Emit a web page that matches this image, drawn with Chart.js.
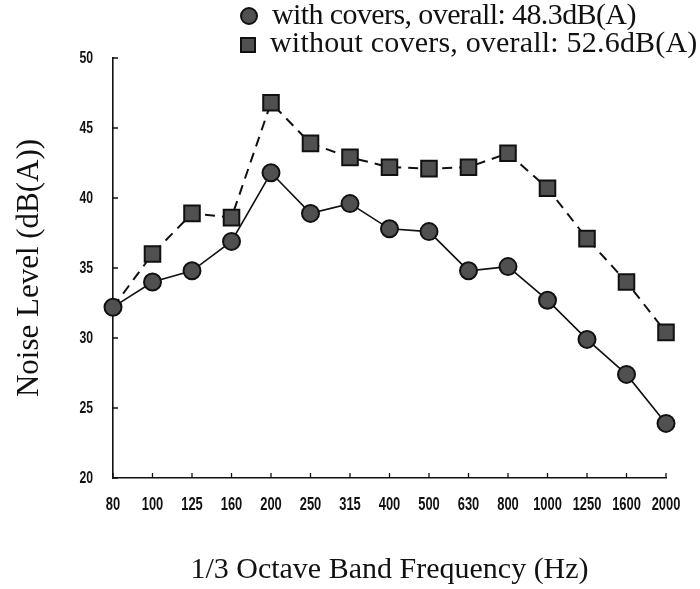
<!DOCTYPE html>
<html>
<head>
<meta charset="utf-8">
<script src="https://cdn.jsdelivr.net/npm/chart.js@4/dist/chart.umd.min.js"></script>
<style>
  html, body { margin: 0; padding: 0; background: #fff; }
  #wrap { position: relative; width: 700px; height: 589px; }
  #legend { position: absolute; left: 240px; top: 0; font-family: "Liberation Serif", "Times New Roman", serif; font-size: 30px; color: #111; line-height: 28px; }
  #legend div { white-space: nowrap; }
  #legend .r1 { letter-spacing: -0.6px; }
  #legend .r2 { letter-spacing: 0.2px; }
  .mk { display: inline-block; width: 16px; height: 16px; background: #505050; border: 2px solid #111; margin-right: 14px; vertical-align: -1px; box-sizing: border-box; }
  .mk.circ { border-radius: 50%; width: 18px; height: 18px; }
</style>
</head>
<body>
<div id="wrap">
  <canvas id="myChart" width="700" height="589"></canvas>
  <div id="legend">
    <div class="r1"><span class="mk circ"></span>with covers, overall: 48.3dB(A)</div>
    <div class="r2"><span class="mk"></span>without covers, overall: 52.6dB(A)</div>
  </div>
</div>
<script>
const frecuencias = ['80', '100', '125', '160', '200', '250', '315', '400', '500', '630', '800', '1000', '1250', '1600', '2000'];
const conTapas = [32.2, 34.0, 34.8, 36.9, 41.8, 38.9, 39.6, 37.8, 37.6, 34.8, 35.1, 32.7, 29.9, 27.4, 23.9];
const sinTapas = [32.2, 36.0, 38.9, 38.6, 46.8, 43.9, 42.9, 42.2, 42.1, 42.2, 43.2, 40.7, 37.1, 34.0, 30.4];
const yMin = 20, yMax = 50, yPaso = 5;

const fuenteTicks = '"Liberation Sans", Arial, sans-serif';
const fuenteSerif = '"Liberation Serif", "Times New Roman", serif';

// small tick marks pointing into the plot, like the original figure
const ticksHaciaDentro = {
    id: 'ticksHaciaDentro',
    beforeDatasetsDraw(chart) {
        const {ctx, chartArea, scales: {x, y}} = chart;
        ctx.save();
        ctx.strokeStyle = '#111';
        ctx.lineWidth = 1.3;
        ctx.beginPath();
        x.ticks.forEach((t, i) => {
            const px = x.getPixelForTick(i);
            ctx.moveTo(px, chartArea.bottom);
            ctx.lineTo(px, chartArea.bottom - 5);
        });
        y.ticks.forEach((t, i) => {
            const py = y.getPixelForTick(i);
            ctx.moveTo(chartArea.left, py);
            ctx.lineTo(chartArea.left + 5, py);
        });
        ctx.stroke();
        ctx.restore();
    }
};

// tick labels in a narrow bold face (squeezed horizontally), placed from the scales
const etiquetasEstrechas = {
    id: 'etiquetasEstrechas',
    afterDraw(chart) {
        const {ctx, chartArea, scales: {x, y}} = chart;
        ctx.save();
        ctx.fillStyle = '#111';
        ctx.textBaseline = 'middle';
        ctx.font = 'bold 19px ' + fuenteTicks;
        ctx.textAlign = 'center';
        x.ticks.forEach((t, i) => {
            ctx.save();
            ctx.translate(x.getPixelForTick(i), chartArea.bottom + 27);
            ctx.scale(0.68, 1);
            ctx.fillText(x.getLabelForValue(t.value), 0, 0);
            ctx.restore();
        });
        ctx.font = 'bold 17px ' + fuenteTicks;
        ctx.textAlign = 'right';
        y.ticks.forEach((t, i) => {
            ctx.save();
            ctx.translate(chartArea.left - 20, y.getPixelForTick(i));
            ctx.scale(0.72, 1);
            ctx.fillText(String(t.value), 0, 0);
            ctx.restore();
        });
        ctx.restore();
    }
};

const ctx = document.getElementById('myChart').getContext('2d');
new Chart(ctx, {
    type: 'line',
    data: {
        labels: frecuencias,
        datasets: [{
            label: 'with covers, overall: 48.3dB(A)',
            data: conTapas,
            borderColor: '#111',
            borderWidth: 1.6,
            pointStyle: 'circle',
            pointRadius: 8.5,
            pointBackgroundColor: '#505050',
            pointBorderColor: '#111',
            pointBorderWidth: 2,
            tension: 0,
            order: 1
        }, {
            label: 'without covers, overall: 52.6dB(A)',
            data: sinTapas,
            borderColor: '#111',
            borderWidth: 2,
            borderDash: [10, 7],
            pointStyle: 'rect',
            pointRadius: c => c.dataIndex === 0 ? 0 : 11,
            pointBackgroundColor: '#505050',
            pointBorderColor: '#111',
            pointBorderWidth: 2,
            tension: 0,
            order: 2
        }]
    },
    options: {
        responsive: false,
        animation: false,
        layout: { padding: { top: 58, right: 34, left: 0, bottom: 0 } },
        plugins: {
            legend: { display: false },
            tooltip: { enabled: false }
        },
        scales: {
            x: {
                offset: false,
                grid: { display: false },
                border: { display: true, color: '#111', width: 1.6 },
                ticks: { display: false, autoSkip: false, maxRotation: 0 },
                title: {
                    display: true,
                    text: '1/3 Octave Band Frequency (Hz)',
                    color: '#111',
                    padding: { top: 0, bottom: 1 },
                    font: { family: fuenteSerif, size: 30 }
                },
                afterFit: s => { s.height = 111; }
            },
            y: {
                min: yMin,
                max: yMax,
                grid: { display: false },
                border: { display: true, color: '#111', width: 1.6 },
                ticks: { display: false, stepSize: yPaso },
                title: {
                    display: true,
                    text: 'Noise Level (dB(A))',
                    color: '#111',
                    padding: { top: 11, bottom: 0 },
                    font: { family: fuenteSerif, size: 31 }
                },
                afterFit: s => { s.width = 113; }
            }
        }
    },
    plugins: [ticksHaciaDentro, etiquetasEstrechas]
});
</script>
</body>
</html>
